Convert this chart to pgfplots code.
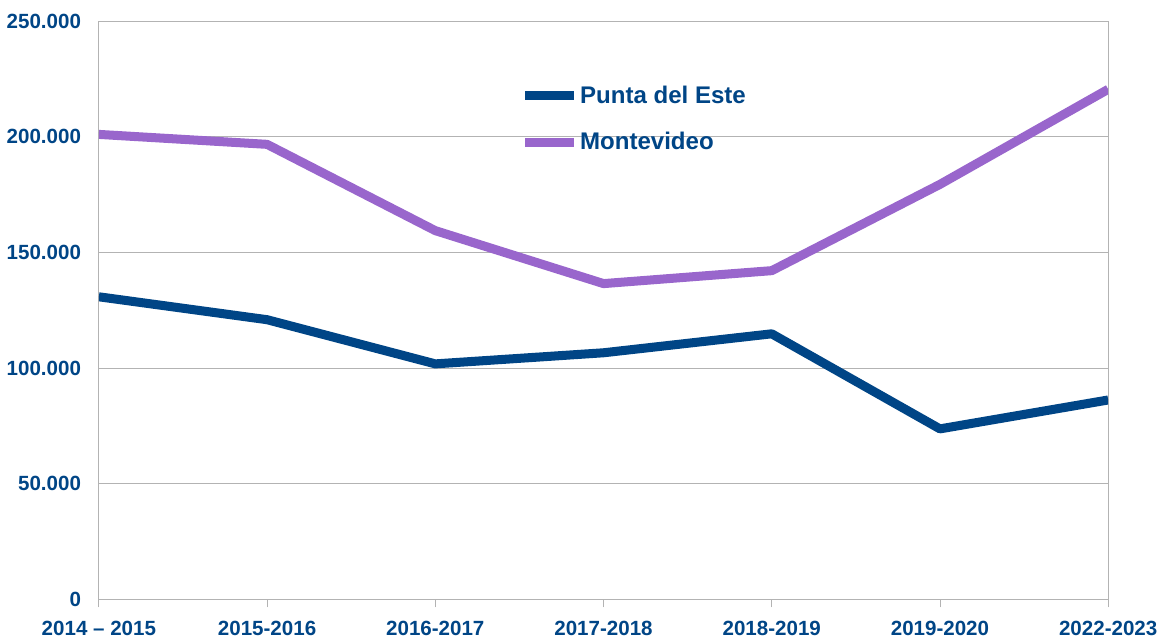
\documentclass[border=0pt]{standalone}
\usepackage{pgfplots}
\pgfplotsset{compat=1.18}
\usepackage{fontspec}
\setmainfont{Liberation Sans}
\definecolor{txtblue}{HTML}{004586}
\definecolor{punta}{HTML}{004586}
\definecolor{monte}{HTML}{9966CC}
\definecolor{gridgray}{HTML}{B3B3B3}

\begin{document}
\fontsize{20}{24}\selectfont\bfseries
\begin{tikzpicture}
\begin{axis}[
  name=ax,
  scale only axis,
  width=1007pt,
  height=577pt,
  xmin=0, xmax=6,
  ymin=0, ymax=250000,
  xtick={0,...,6},
  xticklabels={2014 – 2015,2015-2016,2016-2017,2017-2018,2018-2019,2019-2020,2022-2023},
  ytick={0,50000,100000,150000,200000,250000},
  scaled y ticks=false,
  yticklabel style={xshift=-11pt, /pgf/number format/.cd, fixed, assume math mode=true, 1000 sep={.}, min exponent for 1000 sep=3},
  ymajorgrids=true,
  grid style={gridgray, line width=0.8pt},
  axis line style={gridgray, line width=0.8pt},
  tick style={gridgray, line width=0.8pt},
  xtick pos=bottom,
  xtick align=outside,
  major tick length=8pt,
  ytick style={draw=none},
  tick label style={font=\fontsize{20.5}{24}\selectfont\bfseries, text=txtblue},
  xticklabel style={yshift=-7pt},
  legend style={draw=none, fill=none, at={(0.418,0.892)}, anchor=north west,
    font=\fontsize{24}{28}\selectfont\bfseries, text=txtblue,
    row sep=22pt, inner sep=0pt},
  legend cell align=left,
  legend image code/.code={\draw[#1, line width=9pt] (0pt,0pt) -- (48pt,0pt);},
]
\addplot[punta, line width=9pt, line join=round] coordinates {
  (0,130800) (1,120900) (2,101800) (3,106600) (4,114800) (5,73700) (6,86200)};
\addlegendentry{Punta del Este}
\addplot[monte, line width=9pt, line join=round] coordinates {
  (0,201000) (1,196700) (2,159400) (3,136500) (4,142100) (5,179400) (6,220500)};
\addlegendentry{Montevideo}
\end{axis}
\path (ax.north west) -- ++(0,21pt);
\end{tikzpicture}
\end{document}
